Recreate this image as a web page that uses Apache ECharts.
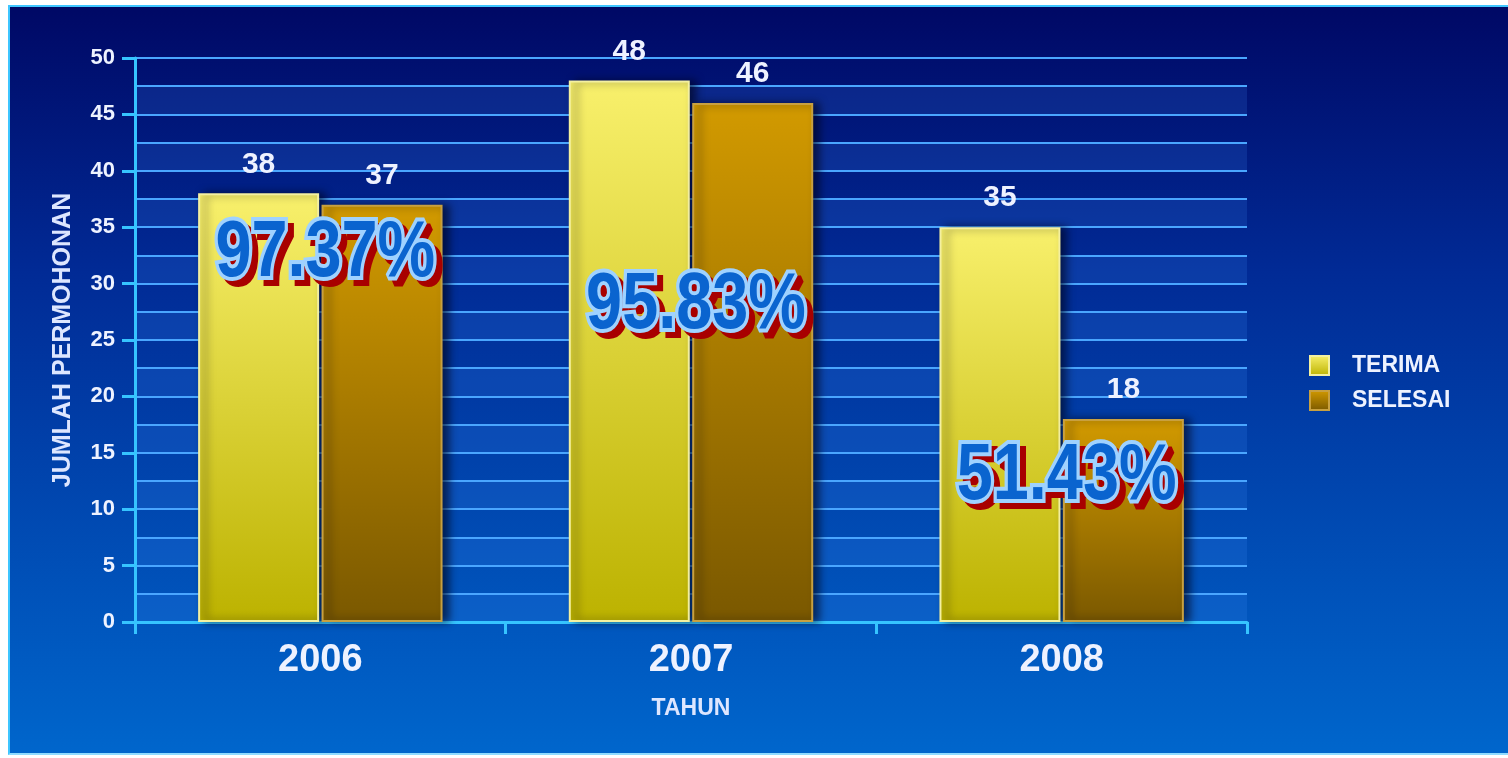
<!DOCTYPE html>
<html>
<head>
<meta charset="utf-8">
<script src="https://cdn.jsdelivr.net/npm/echarts@6/dist/echarts.min.js"></script>
<style>
html,body{margin:0;padding:0;background:#ffffff;width:1508px;height:758px;overflow:hidden;}
#chart{position:absolute;left:8px;top:5px;width:1500px;height:746px;border-top:2px solid #3fc6ff;border-left:2px solid #3fc6ff;border-bottom:2px solid #8fdcff;}
</style>
</head>
<body>
<div id="chart"></div>
<script>
const years = ['2006', '2007', '2008'];
const terima = [38, 48, 35];
const selesai = [37, 46, 18];
const pctLabels = ['97.37%', '95.83%', '51.43%'];
const pctY = [32.6, 28.0, 12.9];

const chart = echarts.init(document.getElementById('chart'));
const txt = '#eef2ff';
const fontFam = '"Liberation Sans", Arial, sans-serif';
const pctFont = 'bold 80px "Liberation Sans", Arial, sans-serif';

function renderPct(params, api) {
  const p = api.coord([api.value(0), api.value(1)]);
  const label = pctLabels[params.dataIndex];
  const cx = p[0] + 5, cy = p[1];
  const base = {text: label, font: pctFont, align: 'center', verticalAlign: 'middle'};
  return {
    type: 'group',
    children: [{
      type: 'text', x: cx + 6, y: cy + 6, scaleX: 0.81, silent: true,
      style: Object.assign({}, base, {fill: '#a80000', stroke: '#a80000', lineWidth: 8, lineJoin: 'round'})
    }, {
      type: 'text', x: cx, y: cy, scaleX: 0.81, silent: true,
      style: Object.assign({}, base, {fill: '#0a64cf', stroke: '#9fd2ff', lineWidth: 8, lineJoin: 'round', strokeFirst: true})
    }]
  };
}

const option = {
  backgroundColor: new echarts.graphic.LinearGradient(0, 0, 0, 1, [
    {offset: 0, color: '#000865'},
    {offset: 0.35, color: '#012a95'},
    {offset: 1, color: '#0066cc'}
  ]),
  textStyle: {fontFamily: fontFam},
  legend: {
    orient: 'vertical',
    left: 1294,
    top: 342,
    itemWidth: 19,
    itemHeight: 19,
    itemGap: 12,
    icon: 'rect',
    data: ['TERIMA', 'SELESAI'],
    textStyle: {color: txt, fontSize: 23, fontWeight: 'bold', fontFamily: fontFam, padding: [0, 0, 0, 18]}
  },
  grid: {left: 125, top: 51, width: 1112, height: 564, containLabel: false},
  xAxis: {
    type: 'category',
    data: years,
    name: 'TAHUN',
    nameLocation: 'middle',
    nameGap: 75,
    nameTextStyle: {color: '#dde6ff', fontSize: 23, fontWeight: 'bold'},
    axisLine: {lineStyle: {color: '#36c4ff', width: 3}},
    axisTick: {show: true, length: 12, lineStyle: {color: '#36c4ff', width: 3}},
    axisLabel: {color: txt, fontSize: 38, fontWeight: 'bold', margin: 20}
  },
  yAxis: [{
    type: 'value',
    min: 0, max: 50, interval: 5,
    name: 'JUMLAH PERMOHONAN',
    nameLocation: 'middle',
    nameRotate: 90,
    nameGap: 59,
    nameTextStyle: {color: '#dde6ff', fontSize: 25, fontWeight: 'bold'},
    axisLine: {show: true, lineStyle: {color: '#36c4ff', width: 3}},
    axisTick: {show: true, length: 13, lineStyle: {color: '#36c4ff', width: 3}},
    axisLabel: {color: txt, fontSize: 22, fontWeight: 'bold', margin: 20},
    splitLine: {show: false}
  }, {
    type: 'value',
    min: 0, max: 50, interval: 2.5,
    position: 'left',
    axisLine: {show: false},
    axisTick: {show: false},
    axisLabel: {show: false},
    splitLine: {show: true, lineStyle: {color: '#4aa6ff', width: 2}},
    splitArea: {show: true, areaStyle: {color: ['rgba(70,150,255,0.16)', 'rgba(0,0,0,0)']}}
  }],
  series: [{
    name: 'TERIMA',
    type: 'bar',
    data: terima,
    barWidth: 121,
    barGap: '2%',
    z: 3,
    itemStyle: {
      color: new echarts.graphic.LinearGradient(0, 0, 0, 1, [
        {offset: 0, color: '#f8f06c'},
        {offset: 1, color: '#bcb200'}
      ]),
      borderColor: '#f4f0a0',
      borderWidth: 2,
      shadowColor: 'rgba(0,0,20,0.6)',
      shadowBlur: 8,
      shadowOffsetX: 6,
      shadowOffsetY: 0
    },
    label: {show: true, position: 'top', distance: 14, color: txt, fontSize: 30, fontWeight: 'bold'}
  }, {
    name: 'SELESAI',
    type: 'bar',
    data: selesai,
    barWidth: 121,
    z: 3,
    itemStyle: {
      color: new echarts.graphic.LinearGradient(0, 0, 0, 1, [
        {offset: 0, color: '#d29a00'},
        {offset: 1, color: '#7a5800'}
      ]),
      borderColor: '#c8a040',
      borderWidth: 2,
      shadowColor: 'rgba(0,0,20,0.6)',
      shadowBlur: 8,
      shadowOffsetX: 6,
      shadowOffsetY: 0
    },
    label: {show: true, position: 'top', distance: 14, color: txt, fontSize: 30, fontWeight: 'bold'}
  }, {
    name: 'pct',
    type: 'custom',
    data: pctY.map((v, i) => [i, v]),
    renderItem: renderPct,
    z: 10,
    silent: true
  }]
};
chart.setOption(option);
</script>
</body>
</html>
